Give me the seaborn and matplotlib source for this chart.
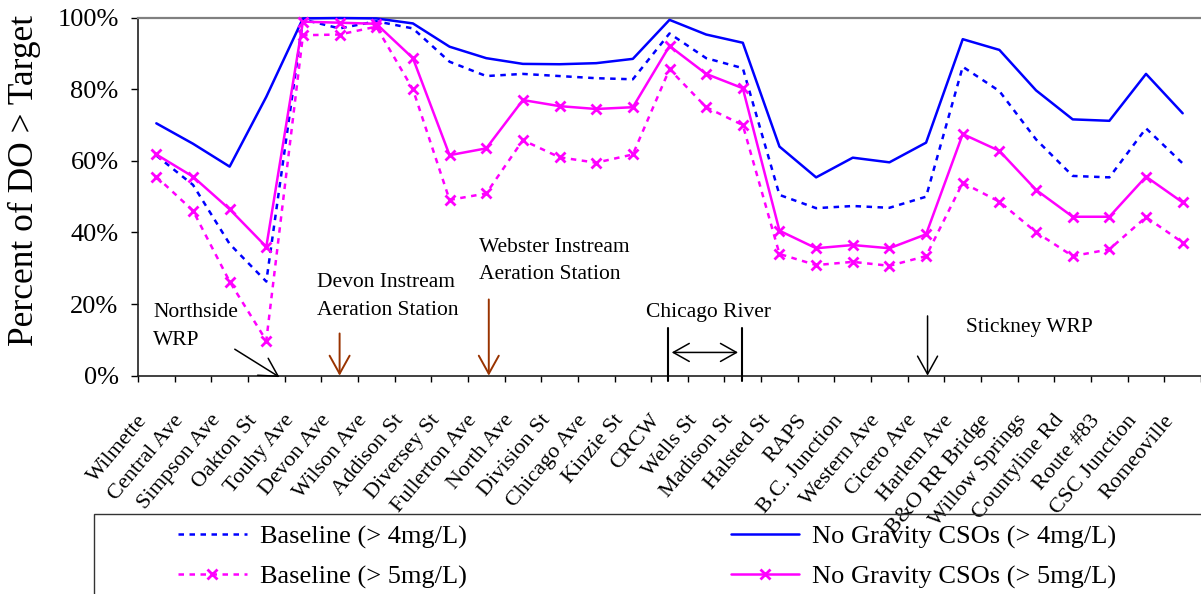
import numpy as np
import pandas as pd
import matplotlib
matplotlib.use("Agg")
import matplotlib.pyplot as plt
import matplotlib.transforms as mtransforms
import seaborn as sns
from matplotlib.patches import Rectangle

# Monitoring stations along the waterway, upstream to downstream
stations = [
    "Wilmette", "Central Ave", "Simpson Ave", "Oakton St", "Touhy Ave",
    "Devon Ave", "Wilson Ave", "Addison St", "Diversey St", "Fullerton Ave",
    "North Ave", "Division St", "Chicago Ave", "Kinzie St", "CRCW",
    "Wells St", "Madison St", "Halsted St", "RAPS", "B.C. Junction",
    "Western Ave", "Cicero Ave", "Harlem Ave", "B&O RR Bridge",
    "Willow Springs", "Countyline Rd", "Route #83", "CSC Junction",
    "Romeoville",
]

# Percent of time dissolved oxygen exceeds the target
baseline_4 = [61.5, 53.3, 36.8, 26.3, 99.5, 97.0, 99.0, 97.0, 87.7, 83.7,
              84.3, 83.7, 83.1, 82.8, 95.6, 88.7, 85.9, 50.5, 46.8, 47.4,
              46.9, 50.0, 86.3, 79.5, 66.0, 55.8, 55.4, 69.1, 59.3]
baseline_5 = [55.6, 46.1, 26.3, 9.8, 95.1, 95.3, 97.5, 80.0, 49.1, 50.9,
              65.8, 61.0, 59.5, 61.8, 85.6, 75.0, 70.0, 34.0, 30.9, 31.8,
              30.7, 33.4, 53.9, 48.6, 40.1, 33.4, 35.3, 44.3, 37.2]
nograv_4 = [70.5, 64.8, 58.4, 77.9, 99.8, 99.9, 99.8, 98.4, 91.9, 88.7,
            87.1, 87.0, 87.3, 88.5, 99.4, 95.3, 93.0, 64.0, 55.4, 60.9,
            59.6, 65.1, 94.0, 91.0, 79.7, 71.6, 71.2, 84.3, 73.3]
nograv_5 = [61.8, 55.6, 46.5, 36.0, 98.9, 98.6, 98.3, 88.7, 61.6, 63.5,
            77.0, 75.3, 74.5, 75.0, 92.1, 84.3, 80.3, 40.5, 35.6, 36.5,
            35.6, 39.5, 67.5, 62.8, 51.9, 44.4, 44.4, 55.6, 48.4]

series_labels = ["Baseline (> 4mg/L)", "Baseline (> 5mg/L)",
                 "No Gravity CSOs (> 4mg/L)", "No Gravity CSOs (> 5mg/L)"]

BLUE = "#0000FF"
MAGENTA = "#FF00FF"
BROWN = "#993300"
DOTTED = (0, (2.2, 2.2))

sns.set_style("white")
plt.rcParams["font.family"] = ["Liberation Serif", "DejaVu Serif"]
plt.rcParams.update({"text.color": "black", "axes.labelcolor": "black",
                     "xtick.color": "black", "ytick.color": "black"})

fig = plt.figure(figsize=(12.01, 5.94), dpi=100)
ax = fig.add_axes([138 / 1201, 1 - 375.7 / 594, (1201 - 138) / 1201, (375.7 - 17.7) / 594])

df = pd.DataFrame({
    "station": pd.Categorical(stations * 4, categories=stations, ordered=True),
    "pct": baseline_4 + baseline_5 + nograv_4 + nograv_5,
    "series": np.repeat(series_labels, len(stations)),
})

styles = {
    series_labels[0]: dict(color=BLUE, linestyle=DOTTED),
    series_labels[1]: dict(color=MAGENTA, linestyle=DOTTED, marker="x",
                           markeredgecolor=MAGENTA),
    series_labels[2]: dict(color=BLUE, linestyle="-"),
    series_labels[3]: dict(color=MAGENTA, linestyle="-", marker="x",
                           markeredgecolor=MAGENTA),
}

for name in series_labels:
    sub = df[df["series"] == name]
    sns.lineplot(data=sub, x="station", y="pct", ax=ax, sort=False,
                 label=name, lw=1.8, markersize=7.5, markeredgewidth=2,
                 clip_on=False, zorder=3, **styles[name])

handles, labels = ax.get_legend_handles_labels()
ax.get_legend().remove()

n = len(stations)
ax.set_xlim(-0.5, -0.5 + (1201 - 137.7) / 36.9)
ax.set_ylim(0, 100)
ax.set_yticks(np.arange(0, 101, 20))
ax.set_yticklabels([f"{v}%" for v in range(0, 101, 20)], fontsize=19)
ax.set_xticks(range(n))
ax.set_xticklabels(stations, rotation=50, ha="right", va="baseline",
                   rotation_mode="anchor", fontsize=16)
ax.set_xticks(np.arange(-0.5, n, 1.0), minor=True)
ax.tick_params(axis="x", which="major", length=0, pad=32)
ax.tick_params(axis="x", which="minor", length=4.5, width=1, direction="out",
               color="black", bottom=True)
ax.tick_params(axis="y", which="major", length=5, width=1, direction="out",
               color="black", pad=9, left=True)
shift = mtransforms.ScaledTranslation(-9 / 100, 0, fig.dpi_scale_trans)
for lab in ax.get_xticklabels():
    lab.set_transform(lab.get_transform() + shift)

ax.set_xlabel("")
ax.set_ylabel("Percent of DO > Target", fontsize=25.5)
ax.yaxis.set_label_coords(-0.091, 0.545)

for side in ("left", "bottom"):
    ax.spines[side].set_color("#202020")
    ax.spines[side].set_linewidth(1.2)
ax.spines["top"].set_color("#808080")
ax.spines["top"].set_linewidth(1.6)
ax.spines["right"].set_visible(False)

# Site annotations (y gives the baseline of the last line)
text_kw = dict(fontsize=15.5, ha="left", va="baseline", linespacing=1.62, zorder=4)
ax.text(-0.09, 8.6, "Northside\nWRP", **text_kw)
ax.text(4.38, 16.95, "Devon Instream\nAeration Station", **text_kw)
ax.text(8.80, 26.9, "Webster Instream\nAeration Station", **text_kw)
ax.text(13.36, 16.5, "Chicago River", **text_kw)
ax.text(22.10, 12.3, "Stickney WRP", **text_kw)

def arrow(x0, y0, x1, y1, color, style="->, head_length=0.9, head_width=0.5", lw=1.1):
    ax.annotate("", xy=(x1, y1), xytext=(x0, y0),
                arrowprops=dict(arrowstyle=style, color=color, lw=lw,
                                shrinkA=0, shrinkB=0, mutation_scale=14.4),
                annotation_clip=False, zorder=4)

arrow(2.14, 7.4, 3.36, -0.4, "black")
arrow(5.0, 11.8, 5.0, 0.0, BROWN, lw=1.4)
arrow(9.07, 21.3, 9.07, 0.0, BROWN, lw=1.4)
arrow(21.04, 16.7, 21.04, 0.0, "black")
arrow(14.06, 6.5, 15.87, 6.5, "black", style="<->, head_length=0.8, head_width=0.45")
for xv in (13.95, 15.99):
    ax.plot([xv, xv], [13.2, -1.4], color="black", lw=1.5, clip_on=False, zorder=4)

# Legend below the plot, inside an open-ended frame
order = [labels.index(s) for s in series_labels]
fig.legend([handles[i] for i in order], [labels[i] for i in order],
           loc="upper left", bbox_to_anchor=(178 / 1201, 1 - 525 / 594),
           ncol=2, frameon=False, fontsize=19, borderpad=0, borderaxespad=0,
           handlelength=2.6, handletextpad=0.5, columnspacing=10,
           labelspacing=0.6)
fig.add_artist(Rectangle((94 / 1201, -0.2), 1.2, (594 - 514.3) / 594 + 0.2,
                         transform=fig.transFigure, fill=False,
                         edgecolor="#333333", lw=1.0))

fig.savefig("out.png", dpi=100)
